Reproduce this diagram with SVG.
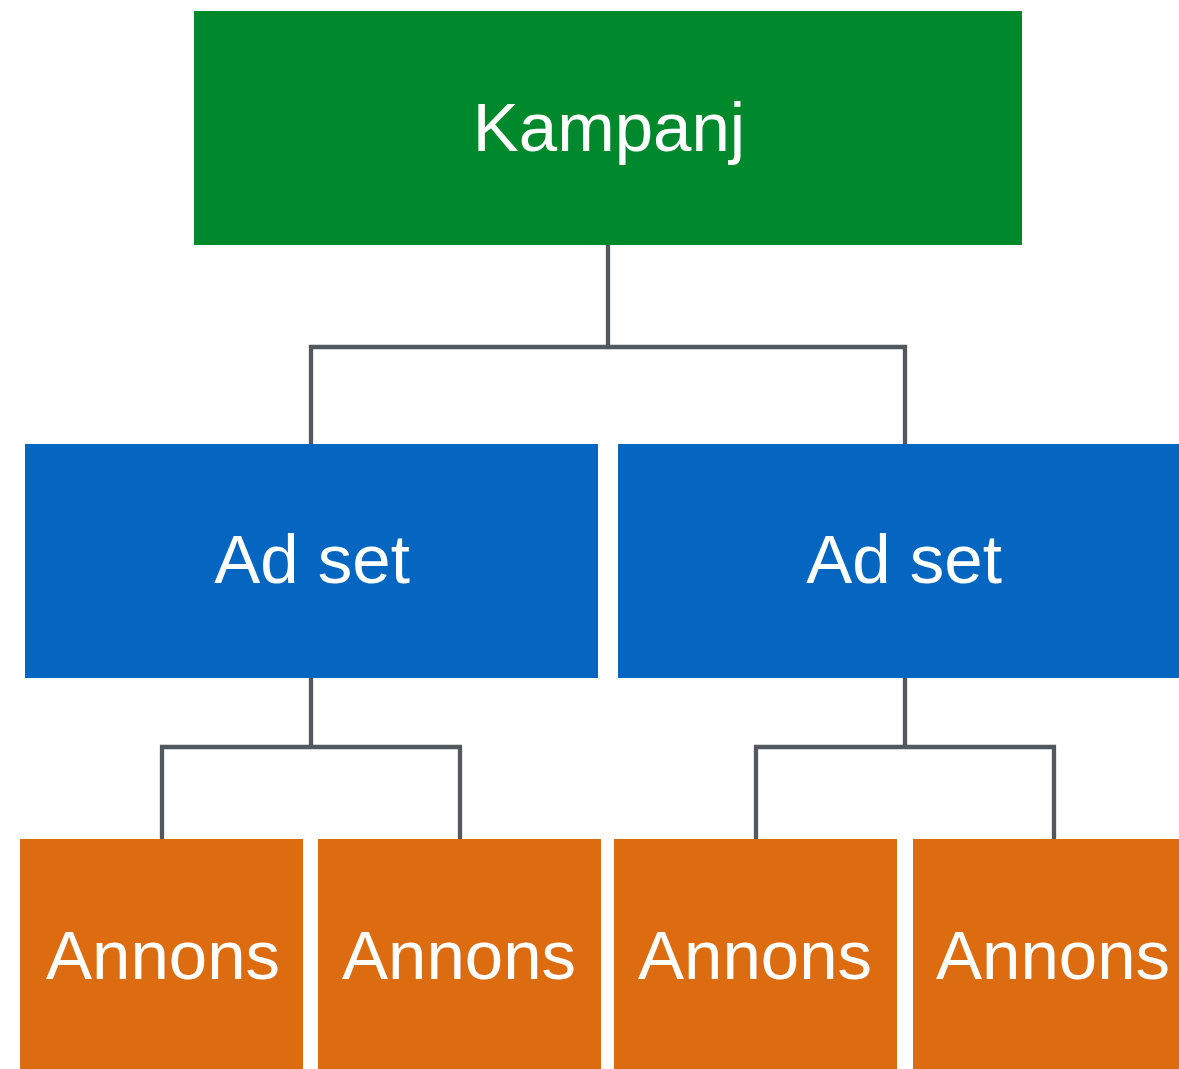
<svg xmlns="http://www.w3.org/2000/svg" width="1179" height="1069" viewBox="0 0 1179 1069">
<style>
.lbl{font-family:"Liberation Sans",Arial,Helvetica,sans-serif;font-size:69px;fill:#ffffff;text-anchor:middle}
.conn{fill:none;stroke:#53585f;stroke-width:4.3;stroke-linejoin:miter;stroke-linecap:butt}
</style>
<rect width="1179" height="1069" fill="#ffffff"/>
<g id="connectors">
<path class="conn" d="M608,245 V347"/>
<path class="conn" d="M311,444 V347 H905 V444"/>
<path class="conn" d="M311,678 V747"/>
<path class="conn" d="M162,839 V747 H460 V839"/>
<path class="conn" d="M905,678 V747"/>
<path class="conn" d="M756,839 V747 H1054 V839"/>
</g>
<g id="kampanj">
<rect x="194" y="11" width="828" height="234" fill="#00892c"/>
<text class="lbl" x="609" y="151">Kampanj</text>
</g>
<g id="adset1">
<rect x="25" y="444" width="573" height="234" fill="#0466c0"/>
<text class="lbl" x="312" y="583">Ad set</text>
</g>
<g id="adset2">
<rect x="618" y="444" width="561" height="234" fill="#0466c0"/>
<text class="lbl" x="904" y="583">Ad set</text>
</g>
<g id="annons1">
<rect x="20" y="839" width="283" height="230" fill="#dd6b10"/>
<text class="lbl" x="163" y="979">Annons</text>
</g>
<g id="annons2">
<rect x="318" y="839" width="283" height="230" fill="#dd6b10"/>
<text class="lbl" x="459" y="979">Annons</text>
</g>
<g id="annons3">
<rect x="614" y="839" width="283" height="230" fill="#dd6b10"/>
<text class="lbl" x="755" y="979">Annons</text>
</g>
<g id="annons4">
<rect x="913" y="839" width="266" height="230" fill="#dd6b10"/>
<text class="lbl" x="1053" y="979">Annons</text>
</g>
</svg>
